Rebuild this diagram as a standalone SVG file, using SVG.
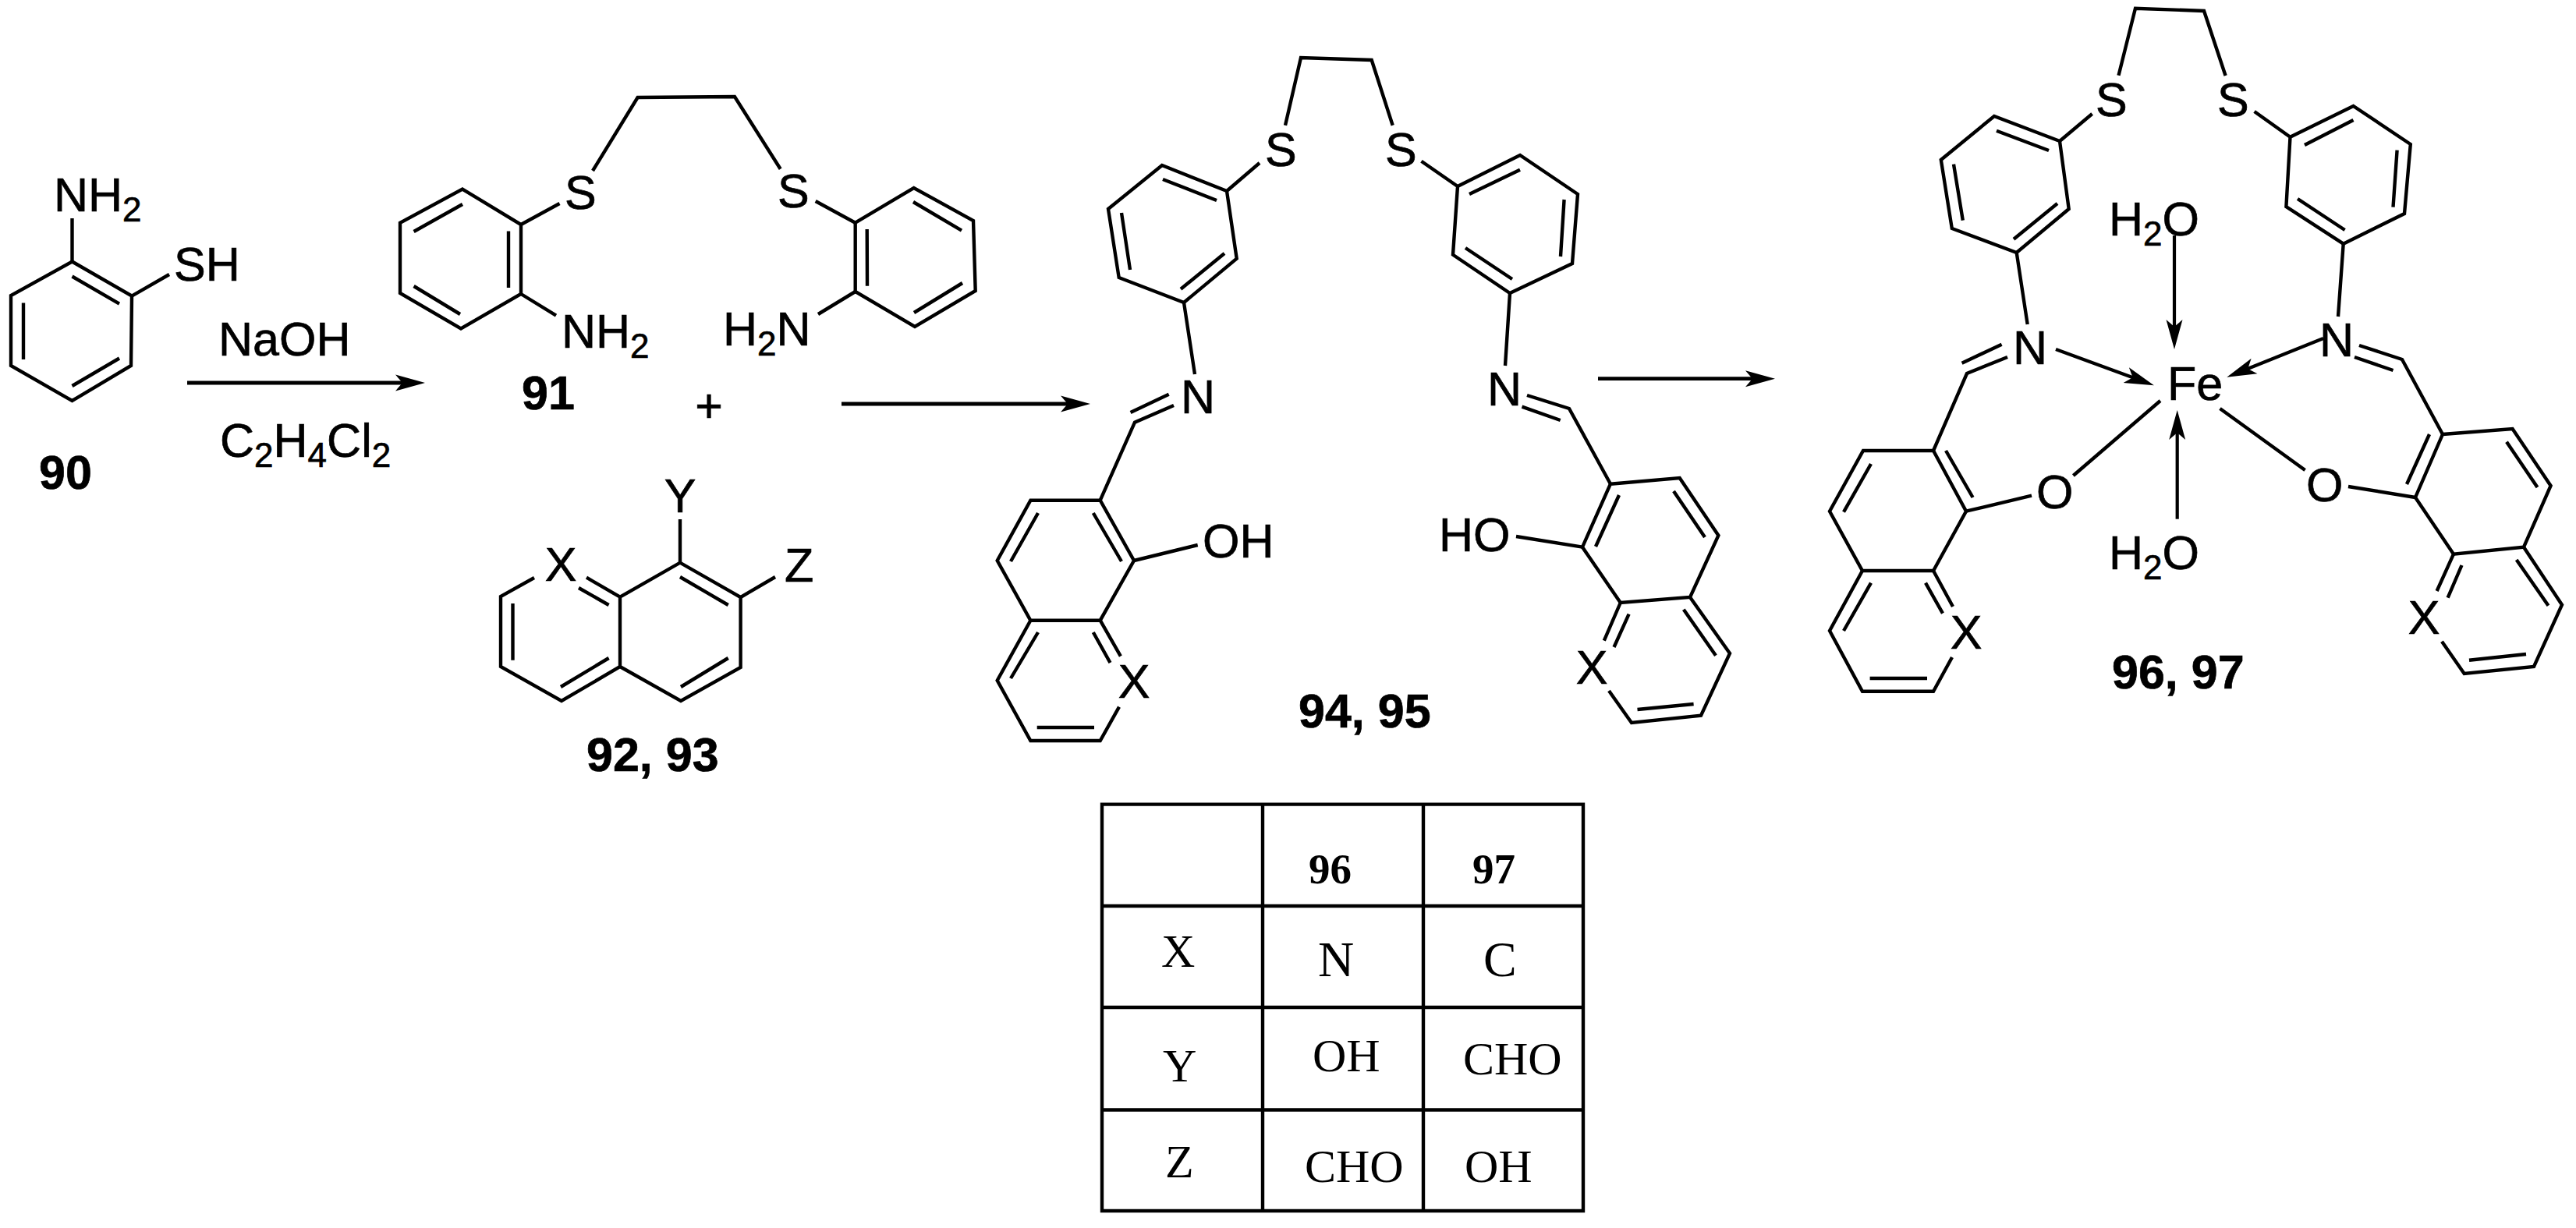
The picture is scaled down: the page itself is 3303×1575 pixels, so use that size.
<svg xmlns="http://www.w3.org/2000/svg" width="3303" height="1575" viewBox="0 0 3303 1575">
<style>
.b{fill:none;stroke:#000;stroke-width:4.4;stroke-linejoin:miter;stroke-linecap:butt}
.a{fill:none;stroke:#000;stroke-width:4.8;marker-end:url(#ah)}
.t{font-family:"Liberation Sans",Arial,sans-serif;font-size:61px;fill:#000;stroke:#000;stroke-width:.7}
.n{font-family:"Liberation Sans",Arial,sans-serif;font-size:61px;font-weight:bold;fill:#000;stroke:#000;stroke-width:.7}
.g{stroke:#000;stroke-width:4.4;fill:none}
.s{font-family:"Liberation Serif","Times New Roman",serif;font-size:60px;fill:#000}
.w{font-size:64px}
.h{font-family:"Liberation Serif","Times New Roman",serif;font-size:55px;font-weight:bold;fill:#000}
.c{text-anchor:middle}
</style>
<defs>
<marker id="ah" markerUnits="userSpaceOnUse" markerWidth="44" markerHeight="28" refX="20" refY="14" orient="auto">
<path d="M0 3.5 L38 14 L0 24.5 L9 14 Z" fill="#000"/>
</marker>
</defs>
<rect width="3303" height="1575" fill="#fff"/>

<g id="compound-90">
<path class="b" d="M92.5 335.5L169 379.6L168 469L92.5 514L14 469L14 379Z"/>
<path class="b" d="M92.5 354.5L153 389.6M153 459.5L92.5 495M30 388.5L30 461M92.5 335.5L92.5 280M169 379.6L217 352"/>
<text class="t" x="69" y="271">NH<tspan font-size="44" dy="13">2</tspan></text>
<text class="t" x="223" y="360">SH</text>
<text class="n" x="50" y="627">90</text>
</g>

<g id="compound-91">
<path class="b" d="M593 242.6L668 288L668 377L591 421.5L513 376L513 285.7Z"/>
<path class="b" d="M593 262L530.6 297M652 296.4L652 369M530.6 367L590 403M668 288L717.5 261M668 377L713 404.7"/>
<path class="b" d="M760 219L817.6 125L942 124L1000.7 216.7M1045.7 258L1096.7 285.7"/>
<path class="b" d="M1096.7 285.7L1171.7 241L1248 283L1250.7 373L1173 419L1096.7 374Z"/>
<path class="b" d="M1111.7 294L1112 366.7M1171 259L1233 295.7M1234 363L1172 401M1096.7 374L1049 403"/>
<text class="t" x="724" y="268">S</text>
<text class="t" x="997" y="266">S</text>
<text class="t" x="720" y="446">NH<tspan font-size="44" dy="13">2</tspan></text>
<text class="t" x="927" y="443">H<tspan font-size="44" dy="13">2</tspan><tspan dy="-13">N</tspan></text>
<text class="n" x="669" y="525">91</text>
</g>

<g id="plus"><text class="t c" x="909" y="541">+</text></g>

<g id="compound-92-93">
<path class="b" d="M685 741L642 765L642 855L720 899L795 855L795 765.7L872 721.7L949.6 766L949.6 856L873 899L795 855M752 740.7L795 765.7"/>
<path class="b" d="M742 754L780.6 776M657.5 774L657.5 846.7M780.6 844L719 881M872 740L933.7 776M933.7 844L873 881M872 721.7L872 666M949.6 766L994 740"/>
<text class="t c" x="872" y="657">Y</text>
<text class="t c" x="719" y="745">X</text>
<text class="t" x="1006" y="746">Z</text>
<text class="n" x="752" y="989">92, 93</text>
</g>

<g id="compound-94-95">
<path class="b" d="M1648 160.7L1668 74L1758.7 77L1785.7 160.7"/>
<path class="b" d="M1573 245L1490 212L1421 268L1434.7 356L1518 388L1585.7 331.7ZM1615 209L1573 245"/>
<path class="b" d="M1560 257L1491 230M1438 273L1449 346M1514 370.7L1570 325M1518 388L1532 480"/>
<path class="b" d="M1505 520L1455 541.7L1410.7 641.7M1498.7 505.7L1449.6 529"/>
<path class="b" d="M1410.7 641.7L1321.4 641.7L1278.7 719L1321.4 795.7L1410.7 795.7L1454 719Z"/>
<path class="b" d="M1401.8 658L1438 720M1331 658L1296 720M1454 719L1535.7 699"/>
<path class="b" d="M1436.9 841.7L1410.7 795.7M1401.8 811L1423.5 850M1321.4 795.7L1278.7 872.7L1321.4 950L1410.7 950L1435 906.7M1331 811L1296 870M1329.7 933L1403 933"/>
<path class="b" d="M1869 239L1949 199L2023 249L2016 338L1936 376L1863 326.7ZM1822.5 206.7L1869 239"/>
<path class="b" d="M1884 249L1949 217.7M2005.6 256L2001 329M1939 358L1879 318M1936 376L1930 469"/>
<path class="b" d="M1958 507L2012 524L2065 620.7M1951.5 521.7L2000.7 539"/>
<path class="b" d="M2065 620.7L2153.7 613L2203.4 686.7L2167 766L2077.8 773L2029 701.7Z"/>
<path class="b" d="M2146 630L2186 689M2076 635L2046 701M2029 701.7L1944 688"/>
<path class="b" d="M2077.8 773L2056.8 821.7M2088.6 787.7L2069.5 830M2167 766L2218 838L2181 917.7L2092 927L2063 886M2158.8 781.7L2200 840.7M2099.5 910L2171.6 903"/>
<text class="t" x="1622" y="213">S</text>
<text class="t" x="1776" y="213">S</text>
<text class="t" x="1514" y="530">N</text>
<text class="t" x="1907" y="520">N</text>
<text class="t" x="1542" y="715">OH</text>
<text class="t" x="1845" y="707">HO</text>
<text class="t c" x="1454" y="895">X</text>
<text class="t c" x="2041" y="877">X</text>
<text class="n" x="1665" y="933">94, 95</text>
</g>

<g id="compound-96-97">
<path class="b" d="M2716.5 96.7L2738 10.7L2826 14L2853.6 97"/>
<path class="b" d="M2641 181L2557 149L2488.8 205L2502.8 293L2585.7 324L2652.7 268ZM2682.6 146L2641 181"/>
<path class="b" d="M2627 193L2560 167.7M2505 210.7L2516.8 282.7M2582 306.7L2638 261M2585.7 324L2599.7 416"/>
<path class="b" d="M2574 458L2522 479L2479 578M2566.6 441.7L2515.6 465.7"/>
<path class="b" d="M2479 578L2389 578L2346 655.7L2388 732L2479 732L2521 655.7Z"/>
<path class="b" d="M2495 578L2529.6 638M2399 595L2364 656.7M2521 655.7L2605 635.7"/>
<path class="b" d="M2504 778L2479 732M2469 747.7L2491 786.7M2388 732L2346 809L2388 886.7L2479 886.7L2503 843M2399 747.7L2364 809M2397.6 870L2471 870"/>
<path class="b" d="M2936.5 175.7L3017.5 136L3090.8 185L3083 274L3004.7 312.7L2931.4 265ZM2890.6 143L2936.5 175.7"/>
<path class="b" d="M2955 186L3017.5 154M3073.6 192.7L3068.5 265.7M3006.6 295L2946 255M3004.7 312.7L2998 406"/>
<path class="b" d="M3025 443L3080 461L3132 557M3019 458L3068.5 475"/>
<path class="b" d="M3132 557L3221.6 550L3270.6 623L3236 701.7L3146 710.7L3097 638Z"/>
<path class="b" d="M3214 566.7L3253.5 625M3115 557L3086 621M3097 638L3011 624"/>
<path class="b" d="M3146 710.7L3124.6 758M3156.5 725L3138.6 766.7M3236 701.7L3285 775.7L3249 855L3159.7 864L3131 822.7M3226.7 718L3267.5 776.7M3166 846.7L3239 839"/>
<path class="b" d="M2770 514L2658.4 610M2846.5 524L2955.6 603"/>
<path class="a" style="stroke-width:4.2" d="M2788 302L2788 430"/>
<path class="a" style="stroke-width:4.2" d="M2791.7 665.7L2791.7 544"/>
<path class="a" style="stroke-width:4.4" d="M2636 448L2745 488"/>
<path class="a" style="stroke-width:4.4" d="M2979 434L2872 477"/>
<text class="t" x="2687" y="149">S</text>
<text class="t" x="2843" y="149">S</text>
<text class="t" x="2581" y="467">N</text>
<text class="t" x="2974" y="457">N</text>
<text class="t" x="2704" y="302">H<tspan font-size="44" dy="13">2</tspan><tspan dy="-13">O</tspan></text>
<text class="t" x="2704" y="730">H<tspan font-size="44" dy="13">2</tspan><tspan dy="-13">O</tspan></text>
<text class="t" x="2779" y="513">Fe</text>
<text class="t" x="2611" y="652">O</text>
<text class="t" x="2957" y="643">O</text>
<text class="t c" x="2521" y="832">X</text>
<text class="t c" x="3108" y="813">X</text>
<text class="n" x="2708" y="883">96, 97</text>
</g>

<g id="connectors">
<path class="a" d="M240 491L527 491"/>
<path class="a" d="M1079 518L1380 518"/>
<path class="a" d="M2049 485.7L2258 485.7"/>
</g>

<g id="reagents">
<text class="t" x="280" y="456">NaOH</text>
<text class="t" x="282" y="586">C<tspan font-size="44" dy="13">2</tspan><tspan dy="-13">H</tspan><tspan font-size="44" dy="13">4</tspan><tspan dy="-13">Cl</tspan><tspan font-size="44" dy="13">2</tspan></text>
</g>

<g id="table">
<path class="g" d="M1413 1031.6H2030V1553H1413ZM1619 1031.6V1553M1825 1031.6V1553M1413 1162H2030M1413 1292H2030M1413 1423.5H2030"/>
<text class="h" x="1678" y="1133">96</text>
<text class="h" x="1888" y="1133">97</text>
<text class="s" x="1489" y="1240">X</text>
<text class="s w" x="1690" y="1252">N</text>
<text class="s w" x="1902" y="1252">C</text>
<text class="s" x="1491" y="1387">Y</text>
<text class="s" x="1683" y="1374">OH</text>
<text class="s" x="1876" y="1378">CHO</text>
<text class="s" x="1494" y="1510">Z</text>
<text class="s" x="1673" y="1516">CHO</text>
<text class="s" x="1878" y="1516">OH</text>
</g>
</svg>
